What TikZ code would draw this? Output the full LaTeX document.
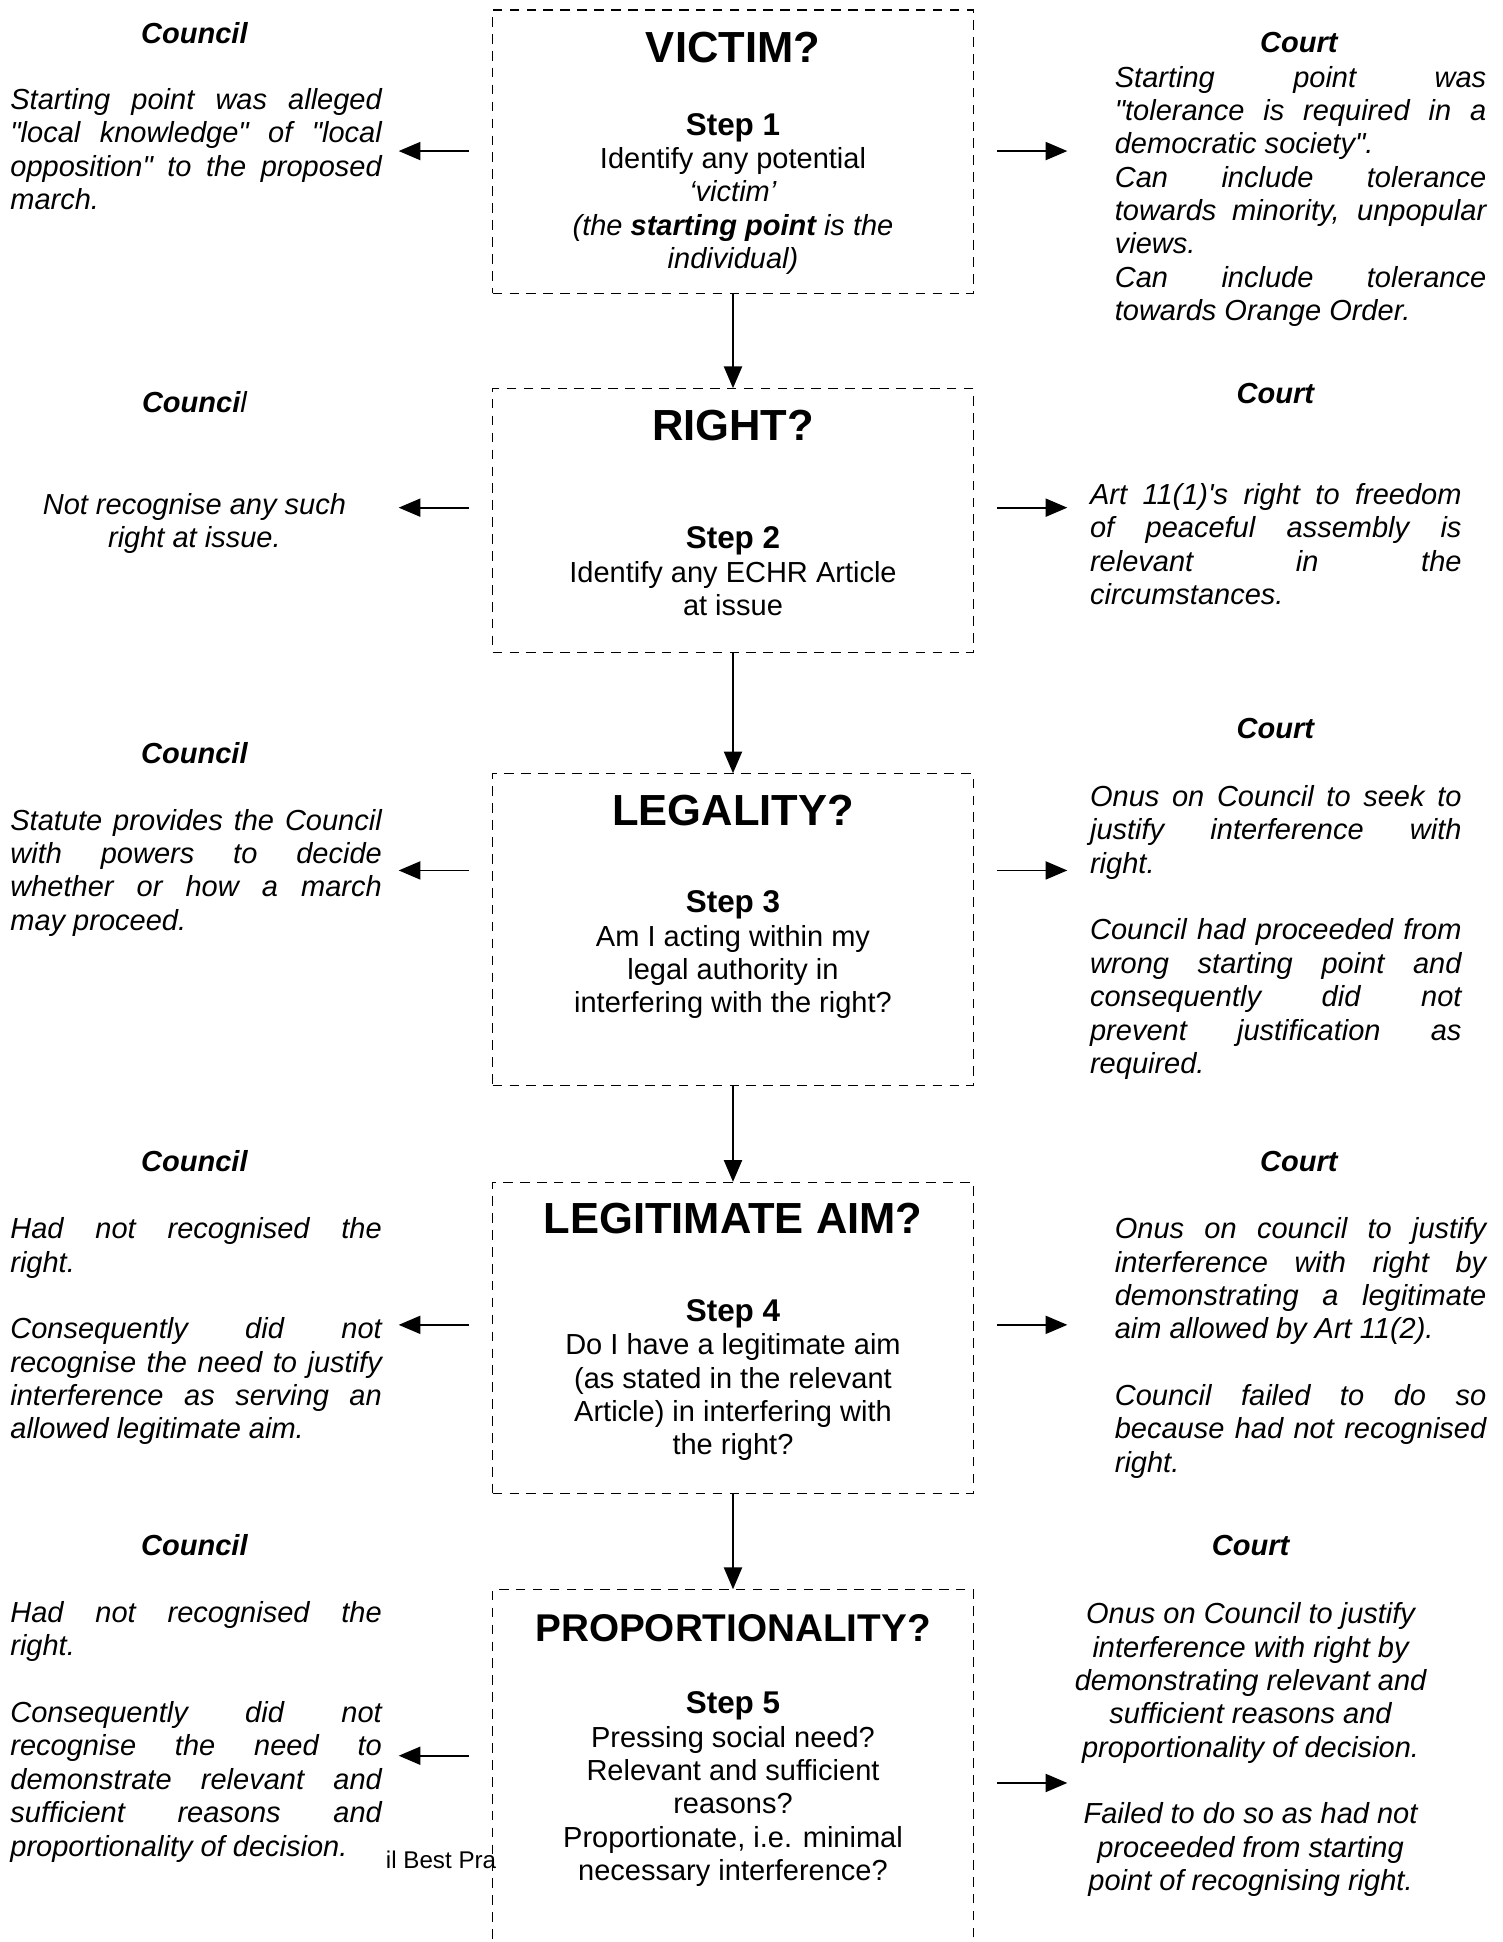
\documentclass[tikz,border=0pt]{standalone}
\usepackage{fontspec}
\setmainfont{Liberation Sans}[Ligatures=TeXOff]
\usetikzlibrary{arrows.meta,positioning}
\setlength{\parindent}{0pt}

\tikzset{
  stepbox/.style={draw,dash pattern=on 4pt off 3pt,line width=0.5pt,minimum width=6.99cm,inner sep=0pt},
  question/.style={font=\bfseries\fontsize{18}{21}\selectfont,inner sep=0pt},
  stepbody/.style={align=center,font=\fontsize{12}{13.8}\selectfont,inner sep=0pt,anchor=north},
  who/.style={font=\bfseries\itshape\fontsize{12}{13.8}\selectfont,inner sep=0pt},
  view/.style={text width=5.4cm,align=justify,font=\itshape\fontsize{12}{13.8}\selectfont,inner sep=0pt,anchor=north west},
  viewc/.style={align=center,font=\itshape\fontsize{12}{13.8}\selectfont,inner sep=0pt,anchor=north},
  side/.style={-{Triangle[length=9pt,width=7.5pt]},line width=0.7pt,shorten <=0.34cm},
  down/.style={-{Triangle[length=9pt,width=7.5pt]},line width=0.7pt}
}
\newcommand{\stepline}[1]{{\bfseries\fontsize{13}{13.8}\selectfont Step #1}}

\begin{document}
\begin{tikzpicture}
\path[use as bounding box,clip] (0,0) rectangle (21.85,-28.232);

% the five steps
\node[stepbox,minimum height=4.122cm] (victimbox) at (10.656,-2.205) {};
\node[question] at (10.656,-0.684) {VICTIM?};
\node[stepbody] at (10.656,-1.638) {\stepline{1}\\Identify any potential\\\textit{‘victim’}\\\textit{(the \textbf{starting point} is the}\\\textit{individual)}};

\node[stepbox,minimum height=3.834cm] (rightbox) at (10.656,-7.569) {};
\node[question] at (10.656,-6.192) {RIGHT?};
\node[stepbody] at (10.656,-7.65) {\stepline{2}\\Identify any ECHR Article\\at issue};

\node[stepbox,minimum height=4.536cm] (legalbox) at (10.656,-13.518) {};
\node[question] at (10.656,-11.79) {LEGALITY?};
\node[stepbody] at (10.656,-12.942) {\stepline{3}\\Am I acting within my\\legal authority in\\interfering with the right?};

\node[stepbox,minimum height=4.518cm] (aimbox) at (10.656,-19.449) {};
\node[question] at (10.656,-17.712) {LEGITIMATE AIM?};
\node[stepbody] at (10.656,-18.882) {\stepline{4}\\Do I have a legitimate aim\\(as stated in the relevant\\Article) in interfering with\\the right?};

\node[stepbox,minimum height=5.688cm] (propbox) at (10.656,-25.956) {};
\node[question,font=\bfseries\fontsize{16}{19}\selectfont] at (10.656,-23.67) {PROPORTIONALITY?};
\node[stepbody] at (10.656,-24.588) {\stepline{5}\\Pressing social need?\\Relevant and sufficient\\reasons?\\Proportionate, i.e. minimal\\necessary interference?};

\foreach \a/\b in {victimbox/rightbox,rightbox/legalbox,legalbox/aimbox,aimbox/propbox}
  \draw[down] (\a) -- (\b);

% council side
\node[who] (council1) at (2.826,-0.486) {Council};
\node[view] (cview1) at (0.144,-1.278) {Starting point was alleged\linebreak "local knowledge" of "local\linebreak opposition" to the proposed\linebreak march.};
\node[who] (council2) at (2.826,-5.85) {Counci\textmd{l}};
\node[viewc] (cview2) at (2.826,-7.164) {Not recognise any such\\right at issue.};
\node[who] (council3) at (2.826,-10.944) {Council};
\node[view] (cview3) at (0.144,-11.754) {Statute provides the Council\linebreak with powers to decide\linebreak whether or how a march\linebreak may proceed.};
\node[who] (council4) at (2.826,-16.884) {Council};
\node[view] (cview4) at (0.144,-17.694) {Had not recognised the\linebreak right.\par\vspace{\baselineskip}Consequently did not\linebreak recognise the need to justify\linebreak interference as serving an\linebreak allowed legitimate aim.};
\node[who] (council5) at (2.826,-22.464) {Council};
\node[view] (cview5) at (0.144,-23.274) {Had not recognised the\linebreak right.\par\vspace{\baselineskip}Consequently did not\linebreak recognise the need to\linebreak demonstrate relevant and\linebreak sufficient reasons and\linebreak proportionality of decision.};
\node[anchor=east,inner sep=0pt,font=\fontsize{10}{12}\selectfont] (footer) at (7.22,-27.04) {il Best Pra};

% court side
\node[who] (court1) at (18.882,-0.612) {Court};
\node[view] (kview1) at (16.2,-0.954) {Starting point was\linebreak "tolerance is required in a\linebreak democratic society".\par Can include tolerance\linebreak towards minority, unpopular\linebreak views.\par Can include tolerance\linebreak towards Orange Order.};
\node[who] (court2) at (18.54,-5.724) {Court};
\node[view] (kview2) at (15.84,-7.02) {Art 11(1)'s right to freedom\linebreak of peaceful assembly is\linebreak relevant in the\linebreak circumstances.};
\node[who] (court3) at (18.54,-10.584) {Court};
\node[view] (kview3) at (15.84,-11.412) {Onus on Council to seek to\linebreak justify interference with\linebreak right.\par\vspace{\baselineskip}Council had proceeded from\linebreak wrong starting point and\linebreak consequently did not\linebreak prevent justification as\linebreak required.};
\node[who] (court4) at (18.882,-16.884) {Court};
\node[view] (kview4) at (16.2,-17.694) {Onus on council to justify\linebreak interference with right by\linebreak demonstrating a legitimate\linebreak aim allowed by Art 11(2).\par\vspace{\baselineskip}Council failed to do so\linebreak because had not recognised\linebreak right.};
\node[who] (court5) at (18.18,-22.464) {Court};
\node[viewc] (kview5) at (18.18,-23.292) {Onus on Council to justify\\interference with right by\\demonstrating relevant and\\sufficient reasons and\\proportionality of decision.\\[13.8pt]Failed to do so as had not\\proceeded from starting\\point of recognising right.};

% side arrows
\coordinate (lt1) at (5.796,-2.196);
\coordinate (lt2) at (5.796,-7.38);
\coordinate (lt3) at (5.796,-12.654);
\coordinate (lt4) at (5.796,-19.26);
\coordinate (lt5) at (5.796,-25.524);
\coordinate (rt1) at (15.516,-2.196);
\coordinate (rt2) at (15.516,-7.38);
\coordinate (rt3) at (15.516,-12.654);
\coordinate (rt4) at (15.516,-19.26);
\coordinate (rt5) at (15.516,-25.92);
\foreach \b/\n in {victimbox/1,rightbox/2,legalbox/3,aimbox/4,propbox/5}{
  \draw[side] (\b.west |- lt\n) -- (lt\n);
  \draw[side] (\b.east |- rt\n) -- (rt\n);
}
\end{tikzpicture}
\end{document}
